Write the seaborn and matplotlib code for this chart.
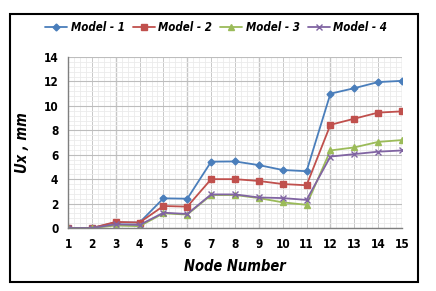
import pandas as pd
import matplotlib
matplotlib.use('Agg')
import matplotlib.pyplot as plt
from matplotlib.patches import Rectangle
from matplotlib.ticker import MultipleLocator
import seaborn as sns

# donnees
nodes = list(range(1, 16))
model_1 = [0, 0, 0.45, 0.45, 2.43, 2.4, 5.43, 5.45, 5.15, 4.75, 4.65, 11.0, 11.45, 11.95, 12.05]
model_2 = [0, 0, 0.5, 0.45, 1.8, 1.75, 4.0, 4.0, 3.85, 3.6, 3.5, 8.45, 8.95, 9.45, 9.55]
model_3 = [0, 0, 0.2, 0.15, 1.2, 1.1, 2.7, 2.7, 2.45, 2.1, 1.9, 6.35, 6.6, 7.05, 7.2]
model_4 = [0, 0, 0.3, 0.25, 1.25, 1.15, 2.75, 2.75, 2.5, 2.45, 2.3, 5.85, 6.05, 6.25, 6.35]
labels = ['Model - 1', 'Model - 2', 'Model - 3', 'Model - 4']
colors = ['#4a7ebb', '#c0504d', '#9bbb59', '#8064a2']
markers = ['D', 's', '^', 'x']
sizes = [3.5, 4.8, 4.5, 5]

df = pd.DataFrame({
    'node': nodes * 4,
    'ux': model_1 + model_2 + model_3 + model_4,
    'model': [lab for lab in labels for _ in nodes],
})

sns.set_style('white')
plt.rcParams['font.family'] = ['DejaVu Sans']
plt.rcParams['font.stretch'] = 'condensed'
plt.rcParams['text.color'] = 'black'
plt.rcParams['xtick.color'] = 'black'
plt.rcParams['ytick.color'] = 'black'
plt.rcParams['axes.labelcolor'] = 'black'

fig = plt.figure(figsize=(4.36, 2.91), dpi=100)
ax = fig.add_axes([0.156, 0.2165, 0.766, 0.5875])

for lab, c, m, s in zip(labels, colors, markers, sizes):
    sub = df[df['model'] == lab]
    sns.lineplot(data=sub, x='node', y='ux', ax=ax, color=c, marker=m,
                 markersize=s, markeredgecolor=c, markeredgewidth=1,
                 linewidth=1.3, label=lab)

ax.set_xlim(1, 15)
ax.set_ylim(0, 14)
ax.xaxis.set_major_locator(MultipleLocator(1))
ax.xaxis.set_minor_locator(MultipleLocator(0.25))
ax.yaxis.set_major_locator(MultipleLocator(2))
ax.yaxis.set_minor_locator(MultipleLocator(0.4))

ax.grid(which='minor', color='#ebebeb', linewidth=0.6)
ax.grid(which='major', axis='x', color='#c8c8c8', linewidth=0.7)
ax.grid(which='major', axis='y', color='#bdbdbd', linewidth=0.8)
for xv in [3, 6, 9, 12, 15]:
    ax.axvline(xv, color='#a0a0a0', linewidth=0.9, zorder=0.5)
ax.set_axisbelow(True)

for side in ['top', 'right']:
    ax.spines[side].set_visible(False)
for side in ['left', 'bottom']:
    ax.spines[side].set_color('#7f7f7f')
    ax.spines[side].set_linewidth(1)

ax.tick_params(which='major', axis='both', direction='out', length=3, color='#7f7f7f',
               labelcolor='black', labelsize=8.5, pad=4)
ax.tick_params(which='minor', axis='y', direction='out', length=2, color='#7f7f7f')
ax.tick_params(which='minor', axis='x', length=0)
for t in ax.get_xticklabels() + ax.get_yticklabels():
    t.set_fontweight('bold')

ax.set_xlabel('Node Number', fontsize=10.5, fontweight='bold', fontstyle='italic', labelpad=6)
ax.set_ylabel('Ux , mm', fontsize=10.5, fontweight='bold', fontstyle='italic', labelpad=10)

leg = ax.legend(loc='center', bbox_to_anchor=(0.496, 0.904), bbox_transform=fig.transFigure,
                ncol=4, frameon=False, fontsize=8.3, handlelength=1.9, columnspacing=0.7,
                handletextpad=0.3)
for t in leg.get_texts():
    t.set_fontweight('bold')
    t.set_fontstyle('italic')

fig.patches.append(Rectangle((10 / 436, 1 - 282 / 291), 408 / 436, 268 / 291,
                             transform=fig.transFigure, fill=False,
                             edgecolor='black', linewidth=1.5))

fig.savefig('out.png', dpi=100)
